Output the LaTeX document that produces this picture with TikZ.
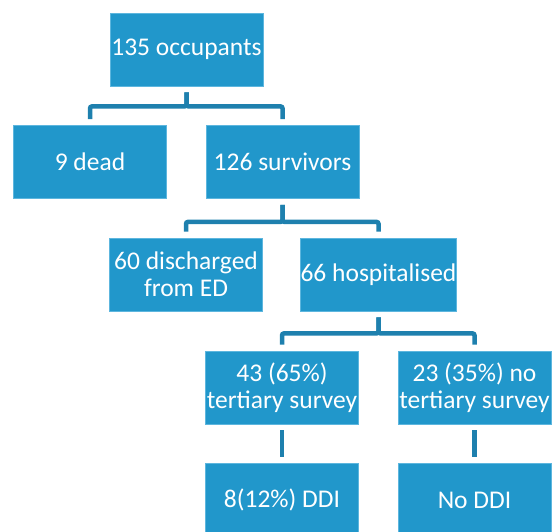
\documentclass[tikz,border=0pt]{standalone}
\usepackage{fontspec}
\setmainfont{Carlito}
\definecolor{boxfill}{HTML}{2197CB}
\definecolor{boxline}{HTML}{5DB6DE}
\definecolor{linkcol}{HTML}{1E80AE}
\begin{document}
\begin{tikzpicture}[x=1pt,y=-1pt,
  box/.style={rectangle, fill=boxfill, draw=boxline, line width=0.8pt,
    minimum width=153pt, minimum height=73pt, inner sep=0pt,
    text=white, align=center, font=\fontsize{25.5}{27}\selectfont},
  link/.style={draw=linkcol, line width=4.5pt, rounded corners=2pt,
    shorten <=6pt, shorten >=6pt}]
\clip (0,0) rectangle (555,531);
\fill[white] (0,0) rectangle (555,531);
\node[box] (b1) at (186.5,49.5) {135 occupants};
\node[box] (b2) at (90,162) {9 dead};
\node[box] (b3) at (282.5,162) {126 survivors};
\node[box] (b4) at (186,274.5) {60 discharged\\from ED};
\node[box] (b5) at (378.5,274.5) {66 hospitalised};
\node[box] (b6) at (282,387.5) {43 (65\%)\\tertiary survey};
\node[box] (b7) at (474.5,387.5) {23 (35\%) no\\tertiary survey};
\node[box] (b8) at (282,500) {8(12\%) DDI};
\node[box] (b9) at (474.5,500) {No DDI};
\path[link] (b1.south) -- ++(0,20) -| (b2.north);
\path[link] (b1.south) -- ++(0,20) -| (b3.north);
\path[link] (b3.south) -- ++(0,23) -| (b4.north);
\path[link] (b3.south) -- ++(0,23) -| (b5.north);
\path[link] (b5.south) -- ++(0,22) -| (b6.north);
\path[link] (b5.south) -- ++(0,22) -| (b7.north);
\path[link] (b6.south) -- (b8.north);
\path[link] (b7.south) -- (b9.north);
\end{tikzpicture}
\end{document}
